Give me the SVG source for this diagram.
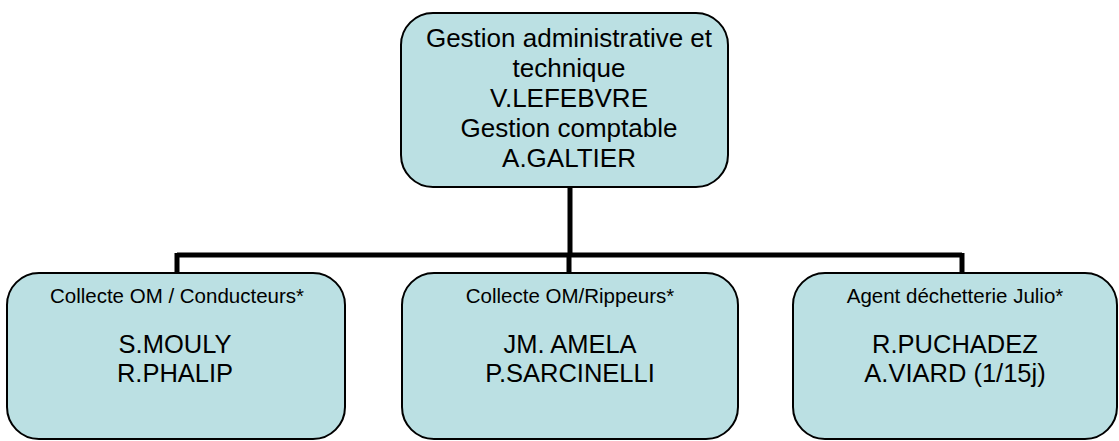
<svg xmlns="http://www.w3.org/2000/svg" width="1119" height="441" viewBox="0 0 1119 441">
<style>
.box{fill:#BBE0E3;stroke:#000;stroke-width:2}
.t{font-family:"Liberation Sans",Arial,sans-serif;fill:#000;text-anchor:middle}
.top{font-size:26px}
.big{font-size:25.5px}
.small{font-size:20.5px}
.conn{fill:none;stroke:#000;stroke-width:5}
</style>
<rect width="1119" height="441" fill="#fff"/>
<g id="connectors">
<path class="conn" d="M570 187 V255 M177 255 H962 M177 253 V273 M569 255 V273 M962 253 V273"/>
</g>
<g id="top">
<rect class="box" x="401" y="13" width="327" height="174" rx="32"/>
<text class="t top" x="569" y="47">Gestion administrative et</text>
<text class="t top" x="569" y="77">technique</text>
<text class="t top" x="569" y="107">V.LEFEBVRE</text>
<text class="t top" x="569" y="137">Gestion comptable</text>
<text class="t top" x="569" y="167">A.GALTIER</text>
</g>
<g id="n1">
<rect class="box" x="7" y="273" width="338" height="166" rx="32"/>
<text class="t small" x="177" y="303">Collecte OM / Conducteurs*</text>
<text class="t big" x="175" y="353">S.MOULY</text>
<text class="t big" x="175" y="382">R.PHALIP</text>
</g>
<g id="n2">
<rect class="box" x="402" y="273" width="336" height="166" rx="32"/>
<text class="t small" x="570" y="303">Collecte OM/Rippeurs*</text>
<text class="t big" x="570" y="353">JM. AMELA</text>
<text class="t big" x="570" y="382">P.SARCINELLI</text>
</g>
<g id="n3">
<rect class="box" x="793" y="273" width="324" height="166" rx="32"/>
<text class="t small" x="955" y="303">Agent déchetterie Julio*</text>
<text class="t big" x="955" y="353">R.PUCHADEZ</text>
<text class="t big" x="955" y="382">A.VIARD (1/15j)</text>
</g>
</svg>
